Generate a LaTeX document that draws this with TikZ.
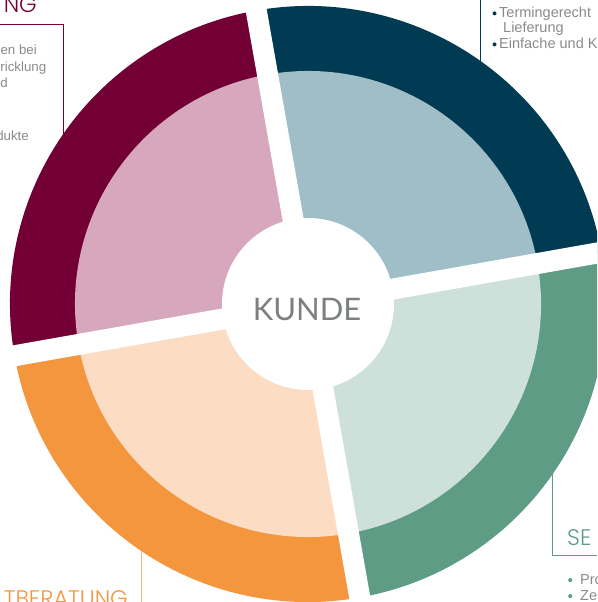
\documentclass[tikz,border=0pt]{standalone}
\usepackage{fontspec}
\setmainfont{Liberation Sans}
\newfontfamily\titlefont{Poppins Light}
\newfontfamily\kundefont{Lato}
\definecolor{maroonD}{HTML}{730035}
\definecolor{maroonL}{HTML}{D7A8BD}
\definecolor{blueD}{HTML}{003A53}
\definecolor{blueL}{HTML}{9FBEC8}
\definecolor{greenD}{HTML}{5E9C85}
\definecolor{greenL}{HTML}{CEE0DA}
\definecolor{orangeD}{HTML}{F3963E}
\definecolor{orangeL}{HTML}{FCDCC2}
\definecolor{textgray}{HTML}{8A8A8A}
\definecolor{kundegray}{HTML}{7D8080}

\begin{document}
\begin{tikzpicture}[x=1pt,y=1pt,
		title/.style={font=\titlefont\fontsize{22.5}{25}\selectfont, inner sep=0pt},
		body/.style={font=\fontsize{14.5}{16}\selectfont, text=textgray, inner sep=0pt},
		smallbody/.style={body, font=\fontsize{13.3}{16}\selectfont},
		frame/.style={line width=1pt},
		gap/.style={white, line width=21pt},
	]
	\useasboundingbox (-308,-298) rectangle (289,304);
	\clip (-308,-298) rectangle (289,304);

	% frame lines of the four text boxes (run behind the ring)
	\draw[frame, maroonD] (-308,279.5) -- (-244,279.5) -- (-244,100);
	\draw[frame, blueD] (172,304) -- (172,200);
	\draw[frame, greenD] (244,-130) -- (244,-251) -- (289,-251);
	\draw[frame, orangeD!70] (-166.3,-200) -- (-166.3,-298);

	% ring: dark outer part, light inner part
	\foreach \a/\dk/\lt in {10/blueD/blueL, 100/maroonD/maroonL, 190/orangeD/orangeL, 280/greenD/greenL}{
		\fill[\dk] (0,0) -- (\a:298) arc[start angle=\a, delta angle=90, radius=298] -- cycle;
		\fill[\lt] (0,0) -- (\a:233) arc[start angle=\a, delta angle=90, radius=233] -- cycle;
	}
	\foreach \a in {10,100}
		\draw[gap] (\a+180:310) -- (\a:310);
	\fill[white] (0,0) circle[radius=86];
	\node[font=\kundefont\fontsize{31}{34}\selectfont, text=kundegray, inner sep=0pt] (kunde) at (-1,-6) {KUNDE};

	% top left
	\node[title, text=maroonD, anchor=base east] (tl) at (-271,291) {NG};
	\node[smallbody, anchor=base east] (tl1) at (-271,249) {en bei};
	\node[smallbody, anchor=base east] (tl2) at (-261.5,232) {ricklung};
	\node[smallbody, anchor=base east] (tl3) at (-300,216) {d};
	\node[smallbody, anchor=base east] (tl4) at (-279,163) {dukte};

	% top right
	\node[body, anchor=base west] (tr1) at (191,286.7) {Termingerecht};
	\node[body, anchor=base west] (tr2) at (195,271.3) {Lieferung};
	\node[body, anchor=base west] (tr3) at (191,255.7) {Einfache und K};
	\foreach \n in {tr1,tr3}
		\fill[blueD] ([xshift=-4.5pt,yshift=3.9pt]\n.base west) circle[radius=2pt];

	% bottom right
	\node[title, text=greenD, anchor=base west] (br) at (259,-241) {SE};
	\node[body, anchor=base west] (br1) at (272,-280) {Pro};
	\node[body, anchor=base west] (br2) at (272,-296) {Ze};
	\foreach \n in {br1,br2}
		\fill[greenD] ([xshift=-9.8pt,yshift=3.9pt]\n.base west) circle[radius=2pt];

	% bottom left
	\node[title, text=orangeD, anchor=base east] (bl) at (-180,-302) {TBERATUNG};
\end{tikzpicture}
\end{document}
